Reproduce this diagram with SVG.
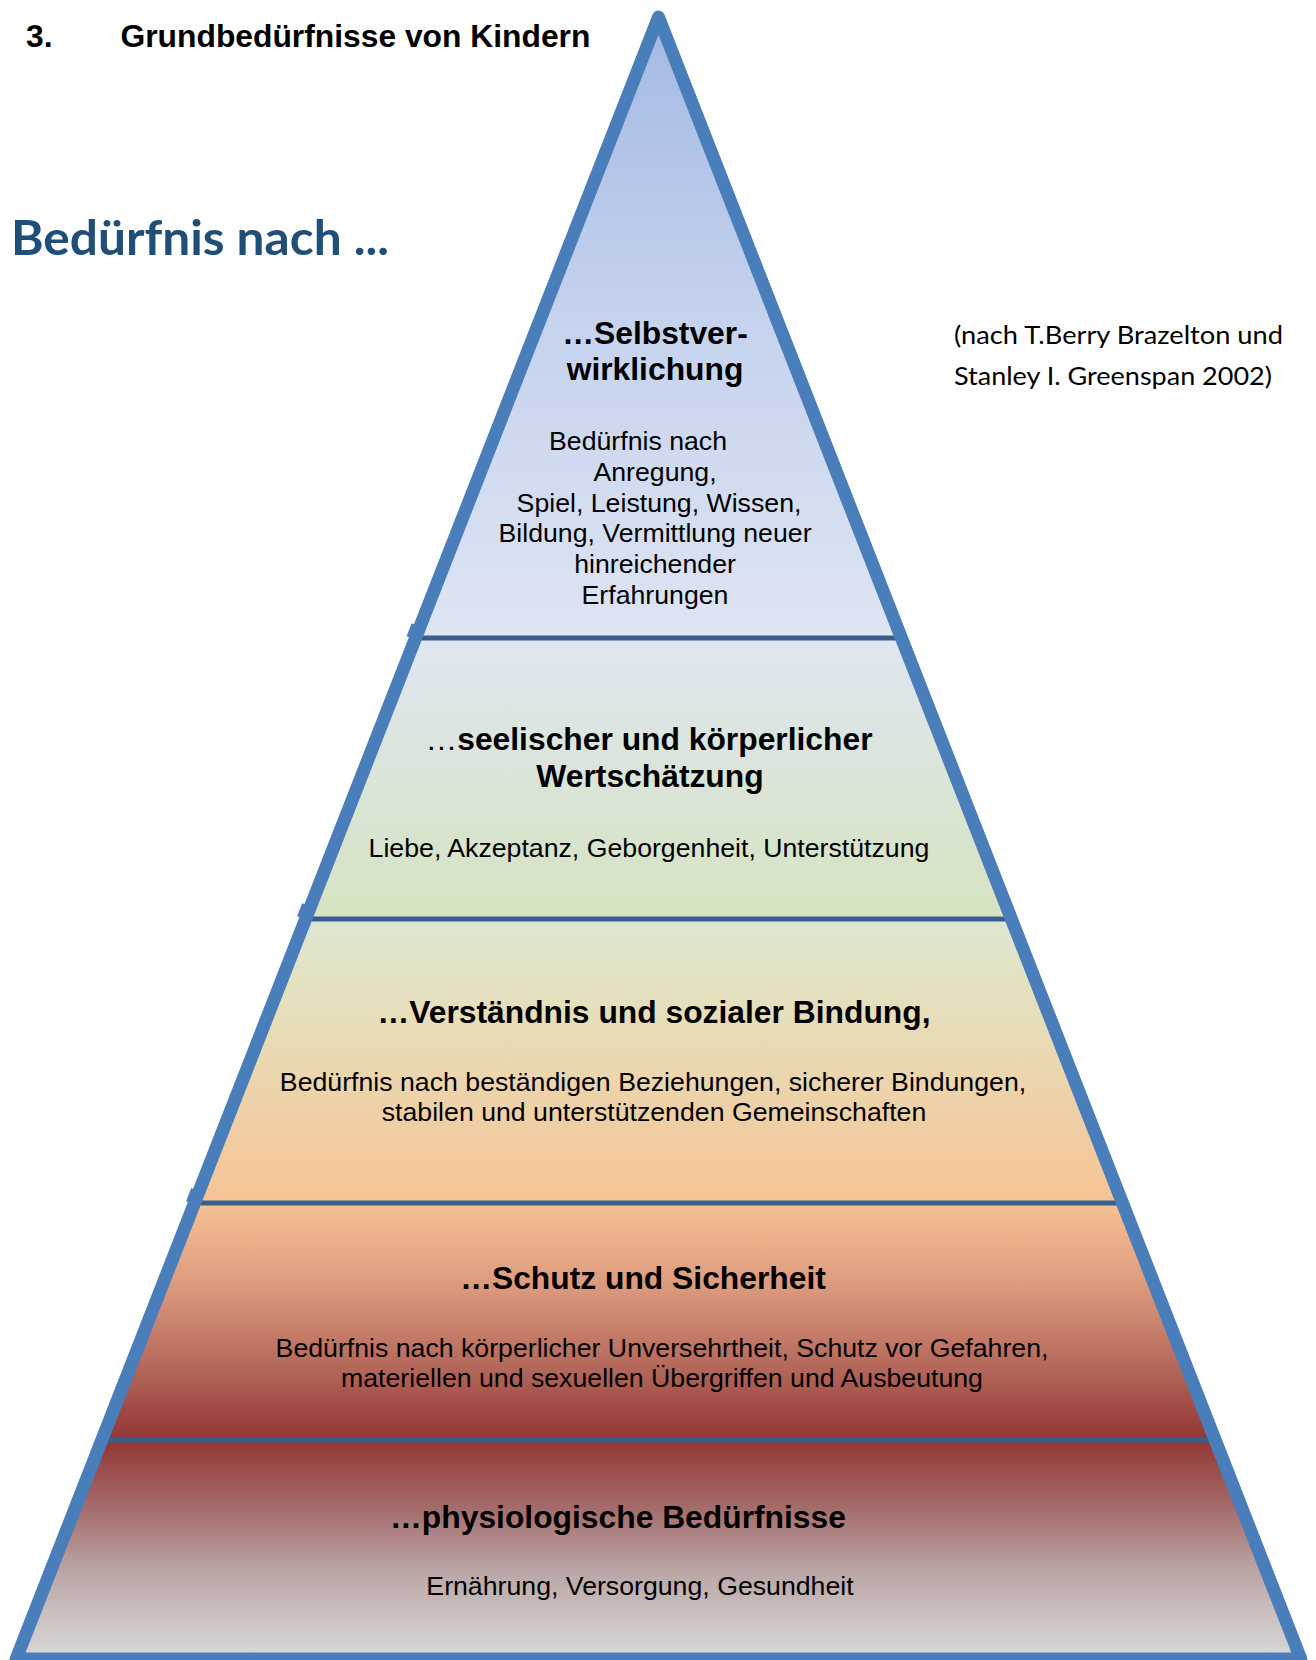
<svg xmlns="http://www.w3.org/2000/svg" width="1316" height="1660" viewBox="0 0 1316 1660">
  <style>
    .h { font-family: "Liberation Sans", Arial, sans-serif; font-weight: bold; font-size: 31.8px; fill: #000; }
    .b { font-family: "Liberation Sans", Arial, sans-serif; font-size: 26.7px; fill: #000; }
    .c { font-family: Lato, "Open Sans", sans-serif; }
    .sep { stroke: #3B5F8D; stroke-width: 5; fill: none; }
    .outline { fill: none; stroke: #4A7EBB; stroke-width: 13; stroke-linejoin: round; }
    .jog { stroke: #4A7EBB; stroke-width: 4; fill: none; }
  </style>
  <defs>
    <linearGradient id="g1" gradientUnits="userSpaceOnUse" x1="0" y1="17" x2="0" y2="638">
      <stop offset="0" stop-color="#A3B8E3"/>
      <stop offset="0.5" stop-color="#C6D3EE"/>
      <stop offset="1" stop-color="#DEE5F3"/>
    </linearGradient>
    <linearGradient id="g2" gradientUnits="userSpaceOnUse" x1="0" y1="638" x2="0" y2="919">
      <stop offset="0" stop-color="#DFE6F1"/>
      <stop offset="1" stop-color="#D6E3C0"/>
    </linearGradient>
    <linearGradient id="g3" gradientUnits="userSpaceOnUse" x1="0" y1="919" x2="0" y2="1203">
      <stop offset="0" stop-color="#DDE8D1"/>
      <stop offset="0.4" stop-color="#E8DCB6"/>
      <stop offset="1" stop-color="#F7C395"/>
    </linearGradient>
    <linearGradient id="g4" gradientUnits="userSpaceOnUse" x1="0" y1="1203" x2="0" y2="1440">
      <stop offset="0" stop-color="#F7C195"/>
      <stop offset="0.35" stop-color="#DC9A7D"/>
      <stop offset="0.7" stop-color="#B3675A"/>
      <stop offset="1" stop-color="#933634"/>
    </linearGradient>
    <linearGradient id="g5" gradientUnits="userSpaceOnUse" x1="0" y1="1440" x2="0" y2="1659">
      <stop offset="0" stop-color="#933634"/>
      <stop offset="0.3" stop-color="#A36A69"/>
      <stop offset="0.6" stop-color="#BBA6A6"/>
      <stop offset="1" stop-color="#D9D9D9"/>
    </linearGradient>
  </defs>

  <g id="title">
    <text class="h" x="26" y="47">3.</text>
    <text class="h" x="120.5" y="47">Grundbedürfnisse von Kindern</text>
  </g>

  <g id="heading">
    <text class="c" x="11" y="255" font-size="48" font-weight="bold" fill="#1F4E79" textLength="378" lengthAdjust="spacingAndGlyphs">Bedürfnis nach ...</text>
  </g>

  <g id="citation">
    <text class="c" x="954" y="343.5" font-size="24.5" fill="#000" textLength="329" lengthAdjust="spacingAndGlyphs">(nach T.Berry Brazelton und</text>
    <text class="c" x="954" y="384.5" font-size="24.5" fill="#000" textLength="318" lengthAdjust="spacingAndGlyphs">Stanley I. Greenspan 2002)</text>
  </g>

  <g id="layer1">
    <polygon points="658.5,17 901.4,638 415.6,638" fill="url(#g1)"/>
    <text class="h" x="655" y="343.5" text-anchor="middle">…Selbstver-</text>
    <text class="h" x="655" y="379.5" text-anchor="middle">wirklichung</text>
    <text class="b" x="549" y="449.5">Bedürfnis nach</text>
    <text class="b" x="655" y="480.5" text-anchor="middle">Anregung,</text>
    <text class="b" x="659" y="511.5" text-anchor="middle">Spiel, Leistung, Wissen,</text>
    <text class="b" x="655" y="541.5" text-anchor="middle">Bildung, Vermittlung neuer</text>
    <text class="b" x="655" y="572.5" text-anchor="middle">hinreichender</text>
    <text class="b" x="655" y="603.5" text-anchor="middle">Erfahrungen</text>
  </g>

  <g id="layer2">
    <polygon points="415.6,638 901.4,638 1011.4,919 305.6,919" fill="url(#g2)"/>
    <text class="h" x="649" y="750" text-anchor="middle"><tspan font-weight="normal">…</tspan>seelischer und körperlicher</text>
    <text class="h" x="650" y="787" text-anchor="middle">Wertschätzung</text>
    <text class="b" x="649" y="856.5" text-anchor="middle">Liebe, Akzeptanz, Geborgenheit, Unterstützung</text>
  </g>

  <g id="layer3">
    <polygon points="305.6,919 1011.4,919 1122.5,1203 194.5,1203" fill="url(#g3)"/>
    <text class="h" x="654" y="1022.5" text-anchor="middle">…Verständnis und sozialer Bindung,</text>
    <text class="b" x="653" y="1091" text-anchor="middle">Bedürfnis nach beständigen Beziehungen, sicherer Bindungen,</text>
    <text class="b" x="654" y="1121" text-anchor="middle">stabilen und unterstützenden Gemeinschaften</text>
  </g>

  <g id="layer4">
    <polygon points="194.5,1203 1122.5,1203 1215.2,1440 101.8,1440" fill="url(#g4)"/>
    <text class="h" x="643" y="1288.5" text-anchor="middle">…Schutz und Sicherheit</text>
    <text class="b" x="662" y="1357" text-anchor="middle">Bedürfnis nach körperlicher Unversehrtheit, Schutz vor Gefahren,</text>
    <text class="b" x="662" y="1387" text-anchor="middle">materiellen und sexuellen Übergriffen und Ausbeutung</text>
  </g>

  <g id="layer5">
    <polygon points="101.8,1440 1215.2,1440 1300.9,1659 16.1,1659" fill="url(#g5)"/>
    <text class="h" x="618" y="1527.5" text-anchor="middle">…physiologische Bedürfnisse</text>
    <text class="b" x="640" y="1594.5" text-anchor="middle">Ernährung, Versorgung, Gesundheit</text>
  </g>

  <g id="connectors">
    <line class="sep" x1="415.6" y1="638" x2="901.4" y2="638"/>
    <line class="sep" x1="305.6" y1="919" x2="1011.4" y2="919"/>
    <line class="sep" x1="194.5" y1="1203" x2="1122.5" y2="1203"/>
    <line class="sep" x1="101.8" y1="1440" x2="1215.2" y2="1440"/>
  </g>

  <g id="pyramid-outline">
    <polygon class="outline" points="658.5,17 1300.9,1659 16.1,1659"/>
    <line class="jog" x1="413.5" y1="624" x2="408.5" y2="637"/>
    <line class="jog" x1="304" y1="904" x2="299" y2="917"/>
    <line class="jog" x1="193" y1="1189" x2="188" y2="1202"/>
  </g>
</svg>
